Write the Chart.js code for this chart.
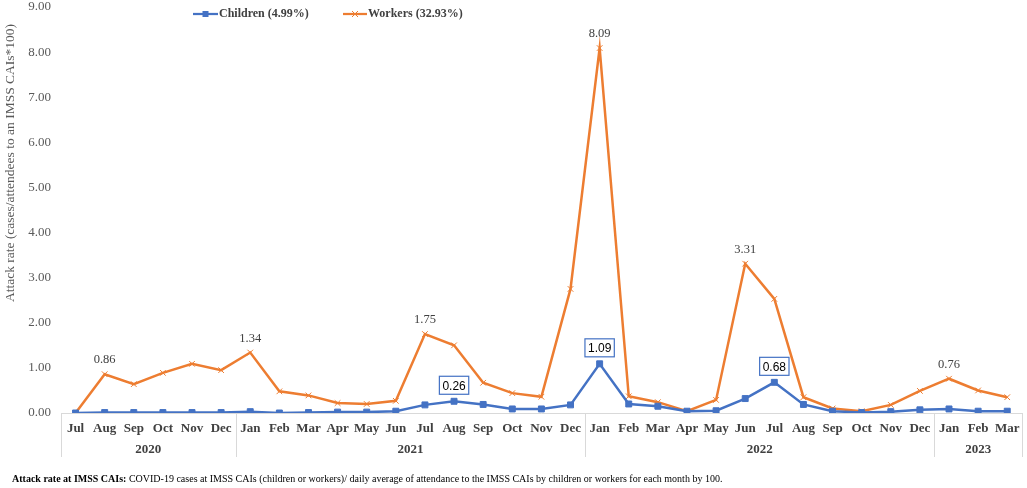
<!DOCTYPE html>
<html>
<head>
<meta charset="utf-8">
<script src="https://cdn.jsdelivr.net/npm/chart.js@4.4.0/dist/chart.umd.min.js"></script>
<style>
  html, body { margin: 0; padding: 0; background: #fff; }
  #wrap { width: 1027px; height: 488px; position: relative; }
</style>
</head>
<body>
<div id="wrap"><canvas id="attackChart"></canvas></div>
<script>
const months = ['Jul','Aug','Sep','Oct','Nov','Dec',
  'Jan','Feb','Mar','Apr','May','Jun','Jul','Aug','Sep','Oct','Nov','Dec',
  'Jan','Feb','Mar','Apr','May','Jun','Jul','Aug','Sep','Oct','Nov','Dec',
  'Jan','Feb','Mar'];
const years = ['2020','2021','2022','2023'];
const monthsPerYear = [6, 12, 12, 3];

const children = [0.00,0.01,0.01,0.01,0.01,0.01,
  0.03,0.00,0.01,0.02,0.02,0.04,0.18,0.26,0.19,0.09,0.09,0.18,
  1.09,0.20,0.15,0.04,0.05,0.32,0.68,0.19,0.04,0.01,0.03,0.07,
  0.09,0.04,0.04];
const workers = [0.00,0.86,0.64,0.89,1.09,0.95,
  1.34,0.48,0.39,0.22,0.20,0.27,1.75,1.50,0.67,0.44,0.36,2.75,
  8.09,0.37,0.24,0.04,0.29,3.31,2.53,0.35,0.10,0.04,0.18,0.49,
  0.76,0.50,0.35];

const childrenLabelled = [13, 18, 24];
const workersLabelled = [1, 6, 12, 18, 23, 30];

const BLUE = '#4472C4';
const ORANGE = '#ED7D31';
const SERIF = "'Liberation Serif', 'Times New Roman', serif";
const SANS = "'Liberation Sans', Arial, sans-serif";

// year row + separators under the month labels
const yearAxis = {
  id: 'yearAxis',
  afterDraw(chart) {
    const { ctx, chartArea } = chart;
    const x = chart.scales.x;
    const half = (x.getPixelForValue(1) - x.getPixelForValue(0)) / 2;
    const top = chartArea.bottom;
    const bottom = top + 44;
    ctx.save();
    ctx.strokeStyle = '#d9d9d9';
    ctx.lineWidth = 1;
    ctx.font = 'bold 13px ' + SERIF;
    ctx.fillStyle = '#404040';
    ctx.textAlign = 'center';
    ctx.textBaseline = 'middle';
    let start = 0;
    const line = (px) => {
      ctx.beginPath();
      ctx.moveTo(Math.round(px) + 0.5, top);
      ctx.lineTo(Math.round(px) + 0.5, bottom);
      ctx.stroke();
    };
    line(x.getPixelForValue(0) - half);
    years.forEach((yr, i) => {
      const end = start + monthsPerYear[i] - 1;
      const left = x.getPixelForValue(start) - half;
      const right = x.getPixelForValue(end) + half;
      line(right);
      ctx.fillText(yr, (left + right) / 2, top + 37);
      start = end + 1;
    });
    ctx.restore();
  }
};

// value labels
const valueLabels = {
  id: 'valueLabels',
  afterDatasetsDraw(chart) {
    const { ctx } = chart;
    ctx.save();
    ctx.textAlign = 'center';
    ctx.textBaseline = 'middle';
    const wMeta = chart.getDatasetMeta(1);
    ctx.font = '12.5px ' + SERIF;
    ctx.fillStyle = '#404040';
    workersLabelled.forEach(i => {
      const p = wMeta.data[i];
      ctx.fillText(workers[i].toFixed(2), p.x, p.y - 14);
    });
    const cMeta = chart.getDatasetMeta(0);
    ctx.font = '12px ' + SANS;
    childrenLabelled.forEach(i => {
      const p = cMeta.data[i];
      const txt = children[i].toFixed(2);
      const w = ctx.measureText(txt).width + 6;
      const h = 18;
      const cy = p.y - 16;
      ctx.fillStyle = '#fff';
      ctx.fillRect(p.x - w / 2, cy - h / 2, w, h);
      ctx.strokeStyle = BLUE;
      ctx.lineWidth = 1.2;
      ctx.strokeRect(p.x - w / 2, cy - h / 2, w, h);
      ctx.fillStyle = '#000';
      ctx.fillText(txt, p.x, cy + 1);
    });
    ctx.restore();
  }
};

// legend inside plot, y title, footnote
const legendAndNote = {
  id: 'legendAndNote',
  afterDraw(chart) {
    const { ctx } = chart;
    ctx.save();
    const ly = 14;
    ctx.lineWidth = 2.25;
    ctx.font = 'bold 12px ' + SERIF;
    ctx.textBaseline = 'middle';
    ctx.fillStyle = '#404040';
    // children
    ctx.strokeStyle = BLUE;
    ctx.beginPath(); ctx.moveTo(193, ly); ctx.lineTo(218, ly); ctx.stroke();
    ctx.fillStyle = BLUE;
    ctx.fillRect(202.5, ly - 3, 6, 6);
    ctx.fillStyle = '#404040';
    ctx.fillText('Children (4.99%)', 219, ly);
    // workers
    ctx.strokeStyle = ORANGE;
    ctx.beginPath(); ctx.moveTo(343, ly); ctx.lineTo(367, ly); ctx.stroke();
    ctx.lineWidth = 1;
    ctx.beginPath();
    ctx.moveTo(352, ly - 3); ctx.lineTo(358, ly + 3);
    ctx.moveTo(352, ly + 3); ctx.lineTo(358, ly - 3);
    ctx.stroke();
    ctx.fillText('Workers (32.93%)', 368, ly);
    // y axis title
    ctx.save();
    ctx.translate(10, 163);
    ctx.rotate(-Math.PI / 2);
    ctx.textAlign = 'center';
    ctx.font = '13.5px ' + SERIF;
    ctx.fillStyle = '#595959';
    ctx.fillText('Attack rate (cases/attendees to an IMSS CAIs*100)', 0, 0);
    ctx.restore();
    // footnote
    ctx.fillStyle = '#000';
    ctx.font = 'bold 10px ' + SERIF;
    const lead = 'Attack rate at IMSS CAIs:';
    ctx.fillText(lead, 12, 479);
    const lw = ctx.measureText(lead + ' ').width;
    ctx.font = '10px ' + SERIF;
    ctx.fillText('COVID-19 cases at IMSS CAIs (children or workers)/ daily average of attendance to the IMSS CAIs by children or workers for each month by 100.', 12 + lw, 479);
    ctx.restore();
  }
};

new Chart(document.getElementById('attackChart'), {
  type: 'line',
  data: {
    labels: months,
    datasets: [
      {
        label: 'Children (4.99%)',
        data: children,
        borderColor: BLUE,
        backgroundColor: BLUE,
        borderWidth: 2.5,
        pointStyle: 'rect',
        pointRadius: 4.2,
        pointBorderWidth: 1,
        tension: 0,
      },
      {
        label: 'Workers (32.93%)',
        data: workers,
        borderColor: ORANGE,
        backgroundColor: ORANGE,
        borderWidth: 2.5,
        pointStyle: 'crossRot',
        pointRadius: 4,
        pointBorderWidth: 1,
        tension: 0,
      },
    ],
  },
  options: {
    responsive: true,
    maintainAspectRatio: false,
    animation: false,
    layout: { padding: { left: 0, right: 2, top: 7, bottom: 0 } },
    plugins: {
      legend: { display: false },
      tooltip: { enabled: false },
    },
    scales: {
      x: {
        offset: true,
        grid: { display: false, drawTicks: false },
        border: { display: true, color: '#d9d9d9', width: 1 },
        ticks: {
          autoSkip: false,
          maxRotation: 0,
          padding: 8,
          color: '#404040',
          font: { family: SERIF, size: 13, weight: 'bold' },
        },
        afterFit: (scale) => {
          scale.height = 75;
          scale.paddingLeft = 0;
          scale.paddingRight = 0;
        },
      },
      y: {
        min: 0,
        max: 9,
        grid: { display: false, drawTicks: false },
        border: { display: false },
        ticks: {
          stepSize: 1,
          padding: 10,
          color: '#595959',
          font: { family: SERIF, size: 13 },
          callback: (v) => v.toFixed(2),
        },
        afterFit: (scale) => {
          scale.width = 61;
          scale.paddingTop = 0;
          scale.paddingBottom = 0;
        },
      },
    },
  },
  plugins: [yearAxis, valueLabels, legendAndNote],
});
</script>
</body>
</html>
